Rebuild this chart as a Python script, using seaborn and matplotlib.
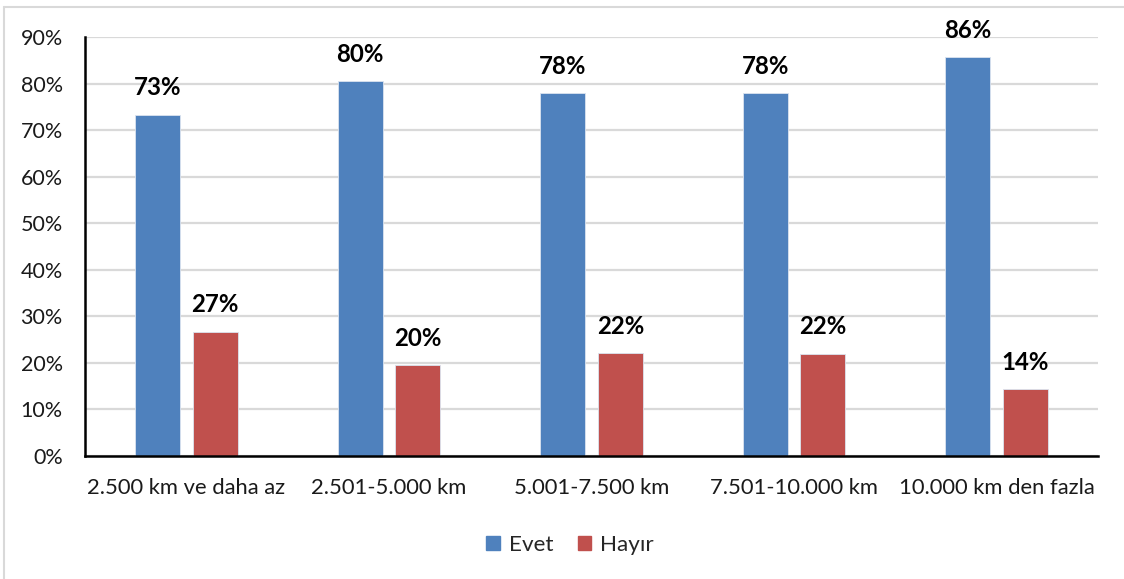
import matplotlib
matplotlib.use("Agg")
import matplotlib.pyplot as plt
import seaborn as sns
import pandas as pd
from matplotlib.lines import Line2D

categories = ["2.500 km ve daha az", "2.501-5.000 km", "5.001-7.500 km", "7.501-10.000 km", "10.000 km den fazla"]
evet = [73.3, 80.5, 77.9, 78.0, 85.7]
hayir = [26.7, 19.5, 22.1, 22.0, 14.3]
series_names = ["Evet", "Hayır"]
colors = ["#4F81BD", "#C0504D"]
yticks = [0, 10, 20, 30, 40, 50, 60, 70, 80, 90]

df = pd.DataFrame({
    "Kategori": categories * 2,
    "Seri": [series_names[0]] * len(categories) + [series_names[1]] * len(categories),
    "Deger": evet + hayir,
})

sns.set_theme(style="white")
plt.rcParams["font.family"] = ["Lato", "DejaVu Sans"]

fig = plt.figure(figsize=(11.24, 5.79), dpi=100)
ax = fig.add_axes([85 / 1124, 1 - 456 / 579, (1098 - 85) / 1124, (456 - 37) / 579])

sns.barplot(data=df, x="Kategori", y="Deger", hue="Seri", palette=colors,
            width=0.568, gap=0.218, ax=ax, legend=False, saturation=1,
            edgecolor="#dbe4f0", linewidth=0.6)

ax.set_ylim(0, 90)
ax.set_xlim(-0.5, len(categories) - 0.5)
ax.set_yticks(yticks)
ax.set_yticklabels([f"{v}%" for v in yticks], fontsize=15.5, color="#1a1a1a")
ax.tick_params(axis="x", labelsize=15.8, labelcolor="#1a1a1a", pad=16, length=0)
ax.tick_params(axis="y", pad=16, length=0)
ax.set_xlabel("")
ax.set_ylabel("")
ax.yaxis.grid(True, color="#d9d9d9", linewidth=1.6)
ax.set_axisbelow(True)
for s in ["top", "right"]:
    ax.spines[s].set_visible(False)
ax.spines["left"].set_color("black")
ax.spines["left"].set_linewidth(1.8)
ax.spines["bottom"].set_color("black")
ax.spines["bottom"].set_linewidth(1.8)

for cont in ax.containers:
    ax.bar_label(cont, labels=[f"{v:.0f}%" for v in cont.datavalues],
                 padding=11, fontsize=17.3, fontweight="bold", color="black")

# legend
handles = [plt.Rectangle((0, 0), 1, 1, color=c) for c in colors]
fig.legend(handles, series_names, loc="center", bbox_to_anchor=(570 / 1124, 1 - 545 / 579),
           ncol=2, frameon=False, fontsize=16.2, handlelength=0.6, handleheight=0.6,
           handletextpad=0.4, columnspacing=1.1)

# outer border (light gray)
fig.add_artist(Line2D([4 / 1124, 4 / 1124], [0, 1 - 7 / 579], transform=fig.transFigure,
                      color="#d9d9d9", linewidth=1.5))
fig.add_artist(Line2D([4 / 1124, 1], [1 - 7 / 579, 1 - 7 / 579], transform=fig.transFigure,
                      color="#d9d9d9", linewidth=1.5))

fig.savefig("out.png", dpi=100, facecolor="white")
